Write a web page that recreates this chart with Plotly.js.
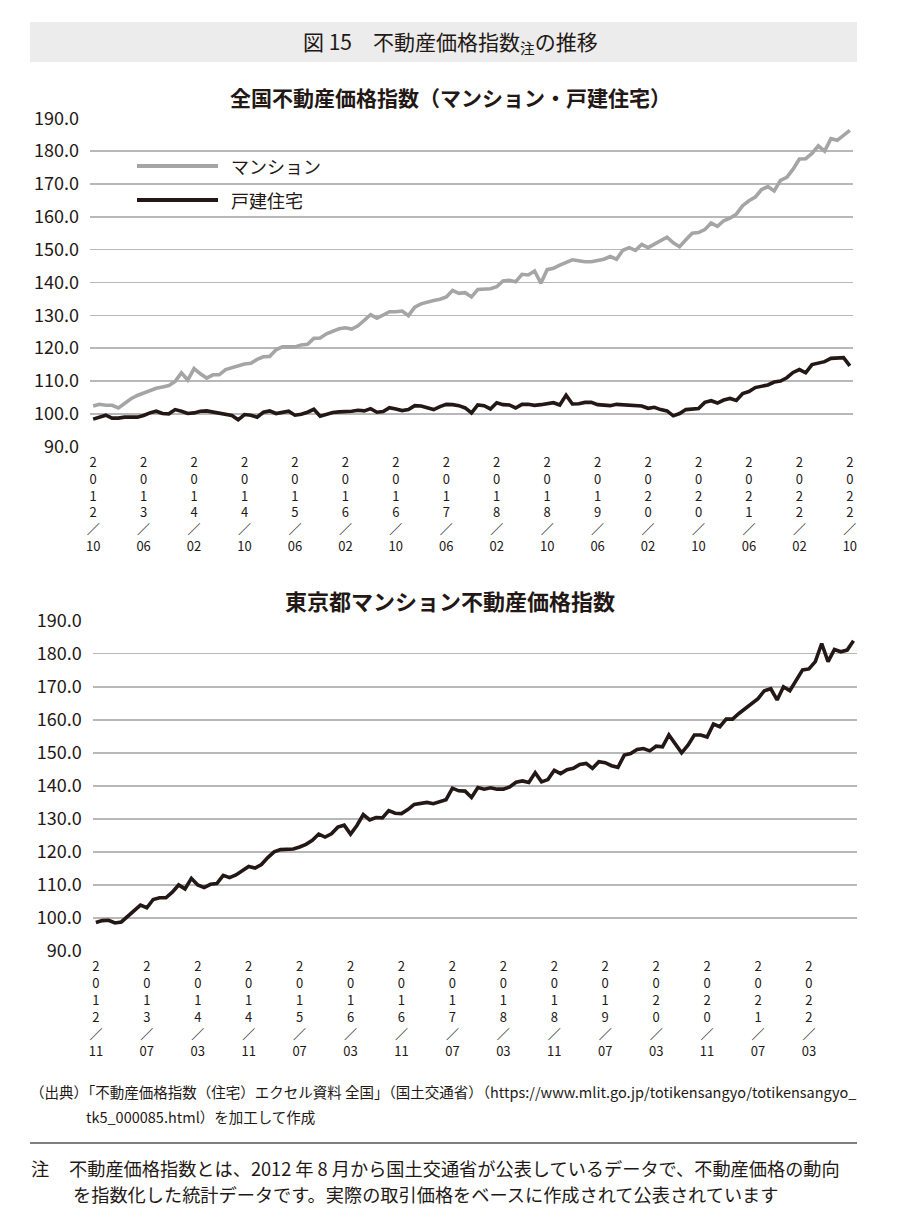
<!DOCTYPE html>
<html>
<head>
<meta charset="utf-8">
<script src="https://cdn.plot.ly/plotly-3.0.1.min.js"></script>
<style>
html,body{margin:0;padding:0;background:#fff;}
#chart{width:900px;height:1229px;}
</style>
</head>
<body>
<div id="chart"></div>
<script>
// ---------- DATA ----------
const start1 = [2012, 10];   // national index: first month
const count1 = 121;
const start2 = [2012, 11];   // Tokyo index: first month
const count2 = 120;
const tickStep = 8;

const mansion = [
 102.4,102.9,102.6,102.6,101.8,103.2,104.6,105.6,106.4,107.1,
 107.8,108.2,108.6,109.9,112.5,110.3,113.8,112.2,110.9,111.9,
 111.9,113.5,114.0,114.5,115.2,115.4,116.6,117.4,117.5,119.5,
 120.4,120.4,120.4,121.0,121.2,123.0,123.1,124.4,125.1,125.9,
 126.2,125.8,126.8,128.6,130.2,129.1,130.1,131.1,131.1,131.3,
 129.9,132.5,133.5,134.1,134.5,134.9,135.6,137.6,136.7,136.9,
 135.6,137.9,138.1,138.1,138.7,140.5,140.7,140.2,142.5,142.3,
 143.5,139.8,143.9,144.3,145.3,146.1,146.9,146.6,146.3,146.3,
 146.6,147.1,147.9,147.1,149.8,150.6,149.8,151.6,150.6,151.7,
 152.5,153.8,152.1,150.9,153.0,155.0,155.2,156.1,158.1,157.1,
 158.8,159.6,160.8,163.4,164.9,166.0,168.3,169.2,167.9,171.1,
 172.0,174.5,177.6,177.7,179.3,181.6,180.0,183.8,183.3,184.8,
 186.3
];
const house = [
 98.4,99.0,99.6,98.7,98.7,99.0,99.1,99.0,99.5,100.3,
 100.8,100.1,100.0,101.3,100.8,100.1,100.3,100.8,100.9,100.6,
 100.2,99.9,99.5,98.2,99.8,99.6,99.0,100.5,100.9,100.1,
 100.4,100.8,99.6,99.9,100.5,101.4,99.3,99.8,100.4,100.6,
 100.6,100.8,101.1,100.9,101.6,100.5,100.7,101.9,101.5,101.0,
 101.3,102.5,102.4,101.9,101.3,102.2,102.9,102.8,102.5,101.8,
 100.3,102.7,102.5,101.5,103.4,102.8,102.7,101.8,102.9,102.9,
 102.6,102.8,103.1,103.4,102.7,105.7,103.0,103.1,103.5,103.5,
 102.8,102.7,102.5,102.9,102.8,102.5,102.4,102.4,101.7,102.0,
 101.3,100.9,99.4,100.1,101.3,101.4,101.6,103.5,104.0,103.3,
 104.2,104.7,104.1,106.2,106.8,108.0,108.3,108.8,109.7,110.0,
 111.0,112.6,113.5,112.5,115.0,115.4,115.9,116.9,117.1,117.1,
 114.6
];
const tokyo = [
 98.6,99.2,99.3,98.5,98.8,100.5,102.3,103.9,103.1,105.6,
 106.1,106.1,107.8,110.0,108.8,112.0,110.0,109.2,110.2,110.4,
 112.9,112.2,113.0,114.2,115.6,115.1,116.2,118.3,120.0,120.7,
 120.7,120.9,121.5,122.3,123.5,125.4,124.5,125.5,127.5,128.1,
 125.4,128.0,131.3,129.7,130.4,130.3,132.5,131.7,131.6,132.8,
 134.4,134.8,135.0,134.6,135.1,135.8,139.3,138.5,138.4,136.5,
 139.5,139.0,139.4,139.0,139.0,139.7,141.1,141.5,141.0,144.0,
 141.2,141.9,144.7,143.7,144.9,145.3,146.5,146.8,145.3,147.3,
 147.0,146.1,145.6,149.3,149.8,151.0,151.3,150.6,152.0,151.8,
 155.4,152.6,150.0,152.3,155.4,155.4,154.8,158.7,157.9,160.2,
 160.2,161.9,163.4,165.0,166.4,168.8,169.4,166.0,170.0,168.8,
 171.8,175.1,175.4,177.6,183.1,177.6,181.3,180.6,181.1,183.9
];

const seriesNames = ['マンション', '戸建住宅'];
const figTitle = '図 15　不動産価格指数<sub>注</sub>の推移';
const title1 = '全国不動産価格指数（マンション・戸建住宅）';
const title2 = '東京都マンション不動産価格指数';
const sourceLine1 = '（出典）「不動産価格指数（住宅）エクセル資料 全国」（国土交通省）（https://www.mlit.go.jp/totikensangyo/totikensangyo_';
const sourceLine2 = 'tk5_000085.html）を加工して作成';
const noteHead = '注';
const noteLine1 = '不動産価格指数とは、2012 年 8 月から国土交通省が公表しているデータで、不動産価格の動向';
const noteLine2 = 'を指数化した統計データです。実際の取引価格をベースに作成されて公表されています';

// ---------- helpers ----------
function monthLabels(start, n){
  const out = [];
  let y = start[0], m = start[1];
  for (let i = 0; i < n; i++){
    out.push(y + '/' + String(m).padStart(2,'0'));
    m++; if (m > 12){ m = 1; y++; }
  }
  return out;
}
const months1 = monthLabels(start1, count1);
const months2 = monthLabels(start2, count2);
const idx1 = months1.map((_, i) => i);
const idx2 = months2.map((_, i) => i);
const ticks1 = idx1.filter(i => i % tickStep === 0);
const ticks2 = idx2.filter(i => i % tickStep === 0);
// vertical (stacked) label text: 2<br>0<br>1<br>2<br>／<br>10
const vlabel = s => s.slice(0,4).split('').join('<br>') + '<br>／<br>' + s.slice(5);
const tickText1 = ticks1.map(i => vlabel(months1[i]));
const tickText2 = ticks2.map(i => vlabel(months2[i]));

const W = 900, H = 1229;
const px = x => x / W;
const py = y => 1 - y / H;

const FONT = '"Noto Sans CJK JP", "Noto Sans", sans-serif';
const BLACK = '#231815';
const GREY = '#a5a5a5';
const GRID = '#b8b8b8';

const traces = [
  {x: idx1, y: mansion, name: seriesNames[0], type: 'scatter', mode: 'lines',
   line: {color: GREY, width: 3.6}, xaxis: 'x', yaxis: 'y', text: months1, hoverinfo: 'text+y'},
  {x: idx1, y: house, name: seriesNames[1], type: 'scatter', mode: 'lines',
   line: {color: BLACK, width: 3.6}, xaxis: 'x', yaxis: 'y', text: months1, hoverinfo: 'text+y'},
  {x: idx2, y: tokyo, name: '東京都マンション', type: 'scatter', mode: 'lines',
   line: {color: BLACK, width: 3.6}, xaxis: 'x2', yaxis: 'y2', text: months2, hoverinfo: 'text+y'}
];

const annotations = [
  {x: 0.5, y: py(42), xref: 'paper', yref: 'paper', text: figTitle, showarrow: false,
   font: {family: FONT, size: 21, color: BLACK}, xanchor: 'center', yanchor: 'middle'},
  {x: 0.5, y: py(97), xref: 'paper', yref: 'paper', text: title1, showarrow: false,
   font: {family: FONT, size: 21, color: BLACK, weight: 700}, xanchor: 'center', yanchor: 'middle'},
  {x: 0.5, y: py(600), xref: 'paper', yref: 'paper', text: title2, showarrow: false,
   font: {family: FONT, size: 22, color: BLACK, weight: 700}, xanchor: 'center', yanchor: 'middle'},
  {x: px(229), y: py(166), xref: 'paper', yref: 'paper', text: seriesNames[0], showarrow: false,
   font: {family: FONT, size: 18, color: BLACK}, xanchor: 'left', yanchor: 'middle'},
  {x: px(229), y: py(200), xref: 'paper', yref: 'paper', text: seriesNames[1], showarrow: false,
   font: {family: FONT, size: 18, color: BLACK}, xanchor: 'left', yanchor: 'middle'},
  {x: px(28), y: py(1091), xref: 'paper', yref: 'paper', text: sourceLine1, showarrow: false,
   font: {family: FONT, size: 14.5, color: BLACK}, xanchor: 'left', yanchor: 'middle'},
  {x: px(84), y: py(1116), xref: 'paper', yref: 'paper', text: sourceLine2, showarrow: false,
   font: {family: FONT, size: 14.5, color: BLACK}, xanchor: 'left', yanchor: 'middle'},
  {x: px(29), y: py(1168), xref: 'paper', yref: 'paper', text: noteHead, showarrow: false,
   font: {family: FONT, size: 18.2, color: BLACK}, xanchor: 'left', yanchor: 'middle'},
  {x: px(67), y: py(1168), xref: 'paper', yref: 'paper', text: noteLine1, showarrow: false,
   font: {family: FONT, size: 18.2, color: BLACK}, xanchor: 'left', yanchor: 'middle'},
  {x: px(71), y: py(1194), xref: 'paper', yref: 'paper', text: noteLine2, showarrow: false,
   font: {family: FONT, size: 18.2, color: BLACK}, xanchor: 'left', yanchor: 'middle'}
];

const shapes = [
  {type: 'rect', xref: 'paper', yref: 'paper', x0: px(30), x1: px(857), y0: py(62), y1: py(22),
   fillcolor: '#ebeceb', line: {width: 0}, layer: 'below'},
  {type: 'line', xref: 'paper', yref: 'paper', x0: px(137), x1: px(218), y0: py(166), y1: py(166),
   line: {color: GREY, width: 4}},
  {type: 'line', xref: 'paper', yref: 'paper', x0: px(137), x1: px(218), y0: py(200), y1: py(200),
   line: {color: BLACK, width: 4.2}},
  {type: 'line', xref: 'paper', yref: 'paper', x0: px(30), x1: px(857), y0: py(1143), y1: py(1143),
   line: {color: '#555555', width: 1.5}}
];

const yCommon = {
  range: [90, 190], dtick: 10, tick0: 90, tickformat: '.1f',
  showgrid: true, gridcolor: GRID, gridwidth: 1.5,
  zeroline: false, showline: false, ticks: '', ticklabelstandoff: 10,
  tickfont: {family: FONT, size: 18, color: BLACK}, fixedrange: true
};
const xCommon = {
  showgrid: false, zeroline: false, showline: false, ticks: '', showticklabels: true,
  tickmode: 'array', tickangle: 0, ticklabelstandoff: 6,
  tickfont: {family: FONT, size: 13, color: BLACK}, fixedrange: true
};

const layout = {
  width: W, height: H,
  margin: {l: 0, r: 0, t: 0, b: 0},
  paper_bgcolor: '#ffffff', plot_bgcolor: 'rgba(0,0,0,0)',
  showlegend: false,
  font: {family: FONT, color: BLACK},
  xaxis: Object.assign({}, xCommon, {domain: [px(90), px(853)], range: [-0.5, count1 - 0.5],
                       tickvals: ticks1, ticktext: tickText1, anchor: 'y'}),
  yaxis: Object.assign({}, yCommon, {domain: [py(446.7), py(118.3)], anchor: 'x'}),
  xaxis2: Object.assign({}, xCommon, {domain: [px(92.7), px(856.7)], range: [-0.5, count2 - 0.5],
                       tickvals: ticks2, ticktext: tickText2, anchor: 'y2'}),
  yaxis2: Object.assign({}, yCommon, {domain: [py(951), py(620.7)], anchor: 'x2'}),
  annotations: annotations,
  shapes: shapes
};

Plotly.newPlot('chart', traces, layout, {displayModeBar: false, staticPlot: true});
</script>
</body>
</html>
